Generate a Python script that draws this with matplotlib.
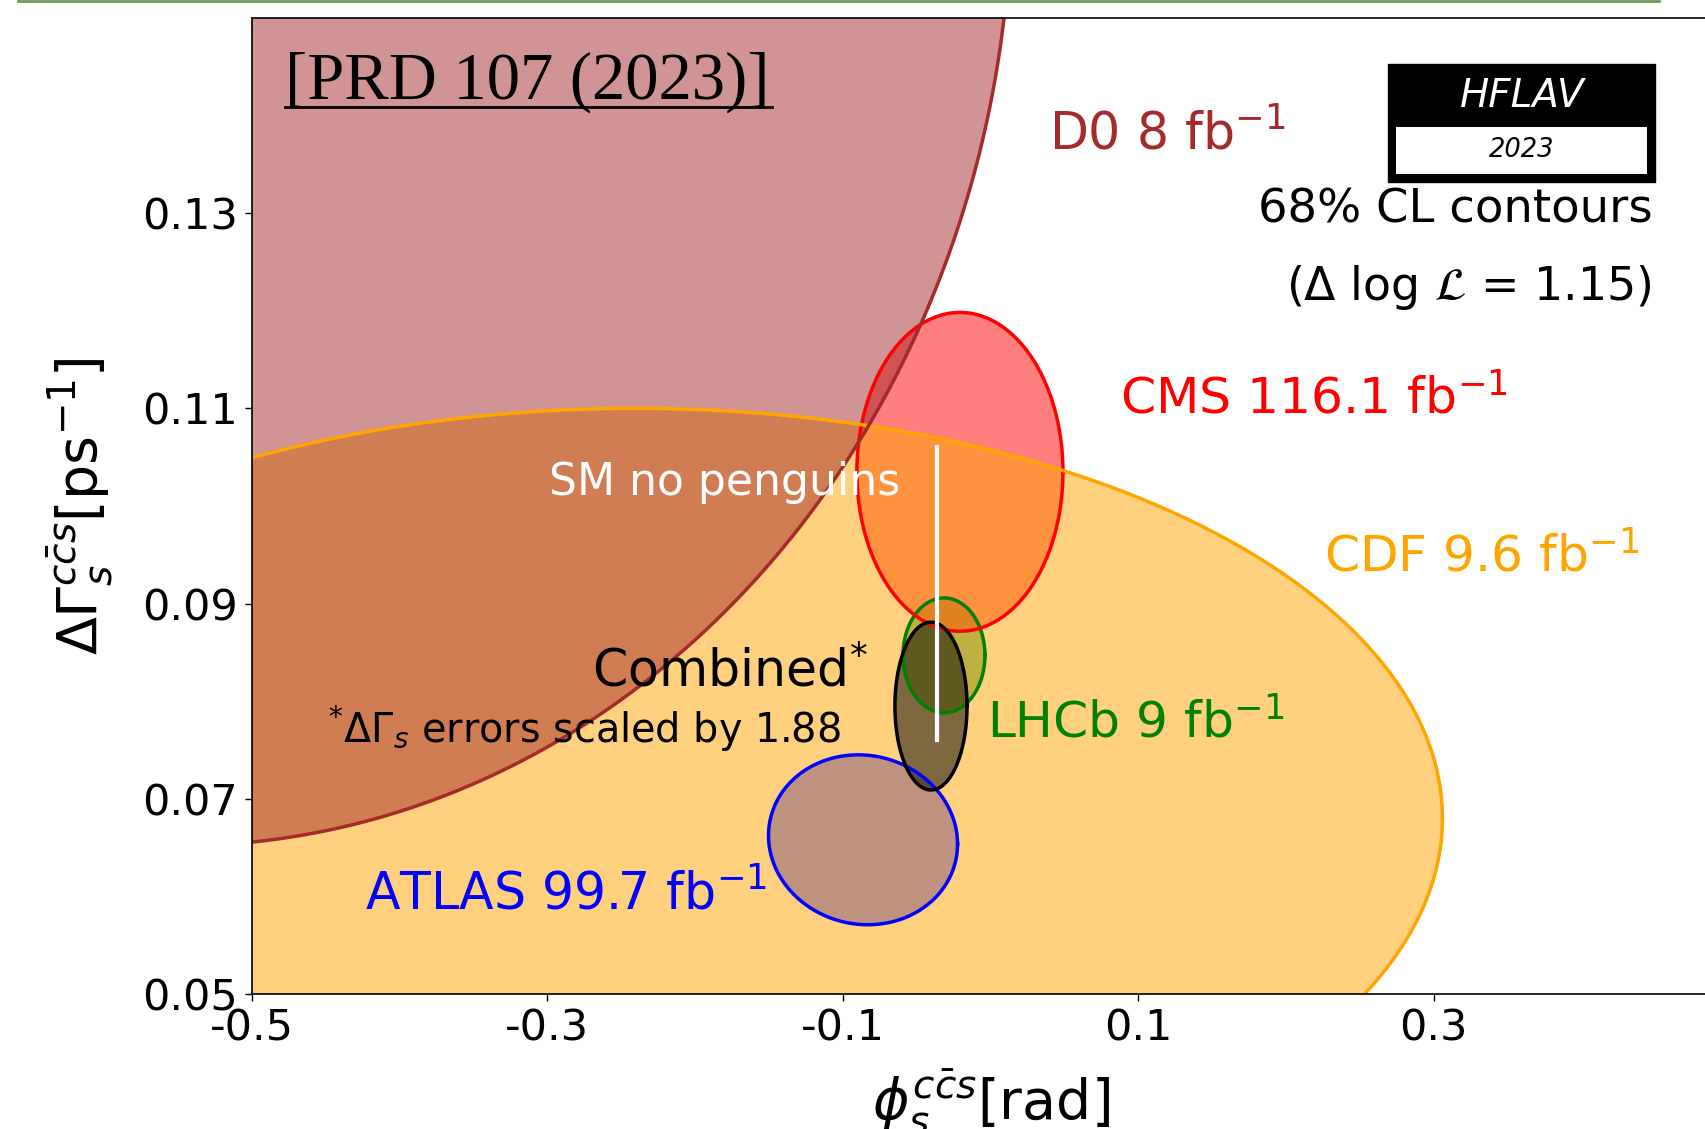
import numpy as np
import matplotlib.pyplot as plt
from matplotlib.lines import Line2D
from matplotlib.patches import Rectangle

# ------- measurements (phi_s [rad], DeltaGamma_s [ps^-1]) -------
experiments = ['ATLAS', 'LHCb', 'CMS', 'CDF', 'D0', 'Combined']
phi_s = [-0.0863, -0.0315, -0.0207, -0.240, -0.550, -0.0403]
phi_err = [0.0422, 0.0183, 0.0460, 0.360, 0.372, 0.0161]
dgamma = [0.0658, 0.0847, 0.1035, 0.068, 0.163, 0.0795]
dgamma_err = [0.00574, 0.00388, 0.01077, 0.0277, 0.0645, 0.00567]
rho = [-0.05, 0.0, 0.0, 0.0, 0.0, 0.0]
colors = ['blue', 'green', 'red', 'orange', 'brown', 'black']

# SM prediction without penguins
sm_phi = -0.0363
sm_dgamma = 0.091
sm_dgamma_err = 0.015

dlogL = 1.15
xticks = [-0.5, -0.3, -0.1, 0.1, 0.3]
xticklabels = ['-0.5', '-0.3', '-0.1', '0.1', '0.3']
yticks = [0.05, 0.07, 0.09, 0.11, 0.13]
yticklabels = ['0.05', '0.07', '0.09', '0.11', '0.13']

plt.rc('font', size=30)
plt.rc('xtick', labelsize=31)
plt.rc('ytick', labelsize=31)


def contour(x0, sx, y0, sy, r):
    # 68% CL contour from the covariance matrix
    cov = np.array([[sx**2, r*sx*sy], [r*sx*sy, sy**2]])
    L = np.linalg.cholesky(cov)
    t = np.linspace(0, 2*np.pi, 500)
    k = np.sqrt(2*dlogL)
    pts = k * L @ np.vstack([np.cos(t), np.sin(t)])
    return x0 + pts[0], y0 + pts[1]


fig = plt.figure(figsize=(17.05, 11.29), dpi=100)
ax = fig.add_axes([252/1705, 135/1129, 1477/1705, 976/1129])

curves = []
for i in range(len(experiments)):
    cx, cy = contour(phi_s[i], phi_err[i], dgamma[i], dgamma_err[i], rho[i])
    curves.append((cx, cy))
    ax.fill(cx, cy, facecolor=colors[i], alpha=0.5, edgecolor='none', zorder=1)
for i in range(len(experiments)):
    cx, cy = curves[i]
    ax.plot(cx, cy, color=colors[i], lw=2.5, zorder=2)

ax.plot([sm_phi, sm_phi], [sm_dgamma - sm_dgamma_err, sm_dgamma + sm_dgamma_err],
        color='white', lw=3, zorder=3)

ax.set_xlim(-0.5, 0.5)
ax.set_ylim(0.05, 0.15)
ax.set_xticks(xticks)
ax.set_xticklabels(xticklabels)
ax.set_yticks(yticks)
ax.set_yticklabels(yticklabels)
ax.tick_params(direction='out', length=5, width=1, pad=5)
for s in ax.spines.values():
    s.set_linewidth(1.2)

ax.set_xlabel(r'$\phi_s^{c\bar{c}s}$[rad]', fontsize=40)
ax.set_ylabel(r'$\Delta\Gamma_s^{c\bar{c}s}$[ps$^{-1}$]', fontsize=40)
ax.xaxis.set_label_coords(0.5, -0.076)
ax.yaxis.set_label_coords(-0.093, 0.5)

# labels
ax.text(0.0396, 0.1365, r'D0 8 fb$^{-1}$', color='brown', fontsize=36.4)
ax.text(0.0877, 0.1095, r'CMS 116.1 fb$^{-1}$', color='red', fontsize=36.3)
ax.text(0.2258, 0.0933, r'CDF 9.6 fb$^{-1}$', color='orange', fontsize=36.2)
ax.text(-0.0024, 0.0763, r'LHCb 9 fb$^{-1}$', color='green', fontsize=36.2)
ax.text(-0.4235, 0.0587, r'ATLAS 99.7 fb$^{-1}$', color='blue', fontsize=36.4)
ax.text(-0.0613, 0.1011, 'SM no penguins', color='white', fontsize=31.8, ha='right')
ax.text(-0.0829, 0.0815, r'Combined$^{*}$', color='black', fontsize=36.4, ha='right')
ax.text(-0.1012, 0.0757, r'$^{*}\Delta\Gamma_s$ errors scaled by 1.88', color='black',
        fontsize=28.6, ha='right')
ax.text(0.948, 0.790, '68% CL contours', transform=ax.transAxes, ha='right', fontsize=33.5)
ax.text(0.948, 0.7115, r'($\Delta$ log $\mathcal{L}$ = 1.15)', transform=ax.transAxes,
        ha='right', fontsize=33)

# HFLAV logo
ax.add_patch(Rectangle((0.7691, 0.8320), 0.1808, 0.1209, transform=ax.transAxes,
                       facecolor='black', edgecolor='black', zorder=5))
ax.add_patch(Rectangle((0.7745, 0.8402), 0.1700, 0.0481, transform=ax.transAxes,
                       facecolor='white', edgecolor='none', zorder=6))
ax.text(0.8599, 0.9200, 'HFLAV', transform=ax.transAxes, color='white', style='italic',
        fontsize=28, ha='center', va='center', zorder=7)
ax.text(0.8599, 0.8645, '2023', transform=ax.transAxes, color='black', style='italic',
        fontsize=18.5, ha='center', va='center', zorder=7)

# slide annotation
fig.text(0.167, 0.9123, '[PRD 107 (2023)]', family='Liberation Serif', fontsize=48,
         ha='left', va='baseline')
fig.add_artist(Line2D([0.167, 0.4528], [0.9052, 0.9052], color='black', lw=2))
fig.add_artist(Line2D([18/1705, 1659/1705], [1 - 1/1129, 1 - 1/1129],
                      color='#6f9a58', lw=2))

fig.savefig('out.png', dpi=100)
